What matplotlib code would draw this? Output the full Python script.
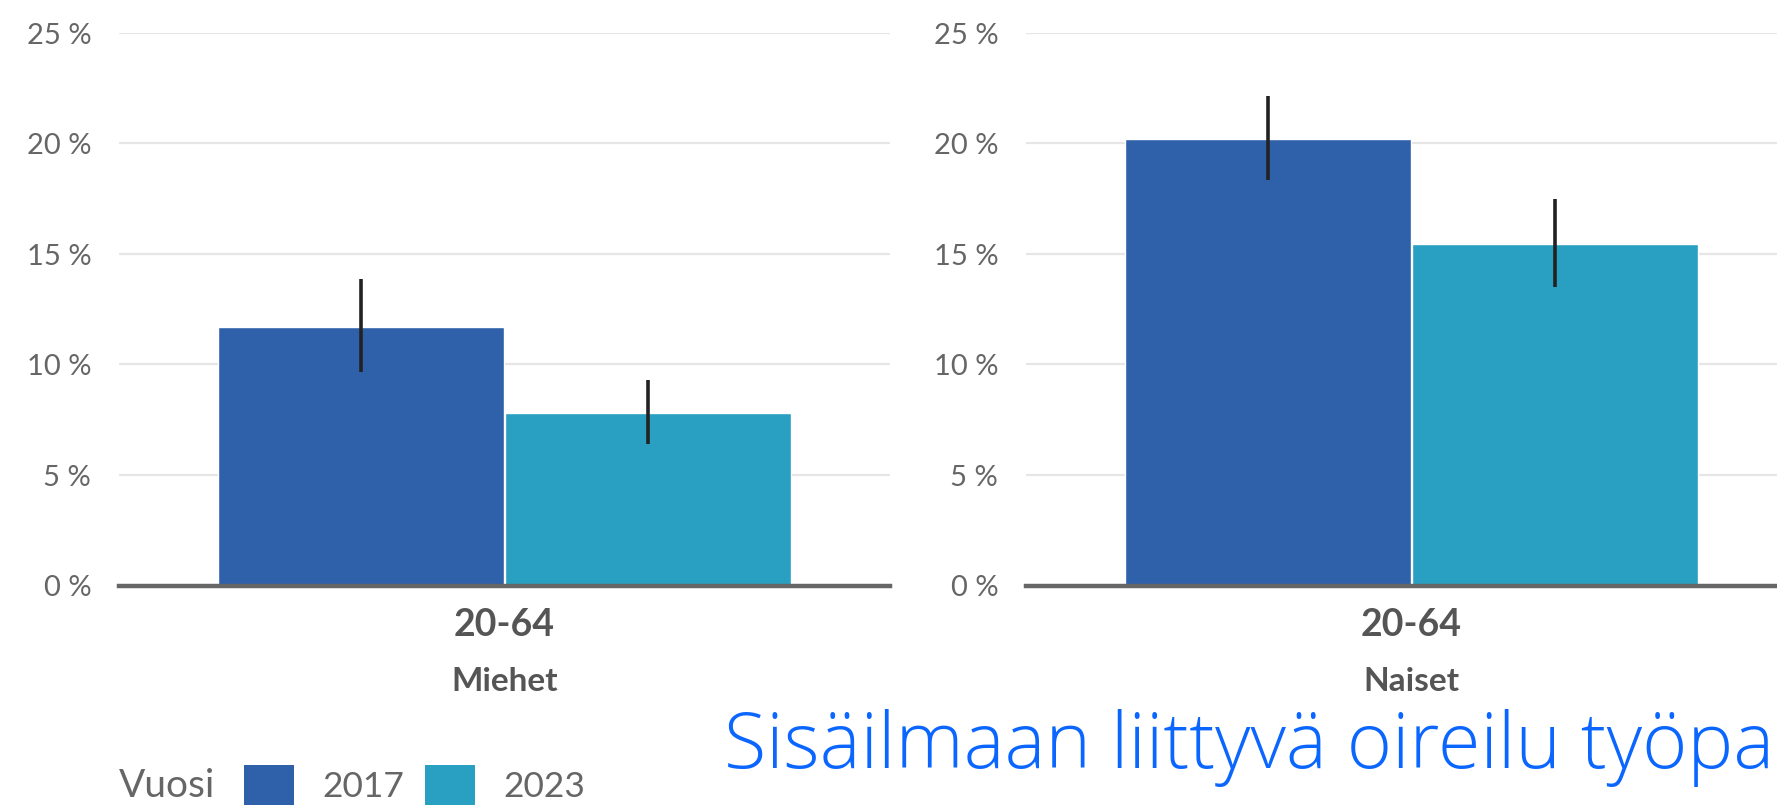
import numpy as np
import matplotlib
matplotlib.use('Agg')
from matplotlib import pyplot as plt
from matplotlib.patches import Patch

plt.rcParams['font.family'] = ['Lato', 'DejaVu Sans']

groups = ['Miehet', 'Naiset']
age_group = '20-64'
years = ['2017', '2023']
values_2017 = [11.7, 20.2]
values_2023 = [7.8, 15.45]
low_2017 = [9.65, 18.35]
high_2017 = [13.85, 22.15]
low_2023 = [6.4, 13.5]
high_2023 = [9.3, 17.5]
yticks = [0, 5, 10, 15, 20, 25]
# only the part of the title that is visible in the cropped reference
title_text = 'Sisäilmaan liittyvä oireilu työpa'

colors = ['#2f60aa', '#29a0c2']
gray = '#666666'

fig = plt.figure(figsize=(17.77, 8.05), dpi=100)
W, H = 1777, 805
bottom = 1 - 585.5 / H
height = (585.5 - 33) / H
axes = [fig.add_axes([119 / W, bottom, 771 / W, height]),
        fig.add_axes([1026 / W, bottom, 771 / W, height])]

bw = 0.37
off = 0.186
for i, ax in enumerate(axes):
    vals = [values_2017[i], values_2023[i]]
    lows = [low_2017[i], low_2023[i]]
    highs = [high_2017[i], high_2023[i]]
    xs = [-off, off]
    ax.bar(xs, vals, width=bw, color=colors, edgecolor='white', linewidth=1, zorder=2)
    err = [np.array(vals) - np.array(lows), np.array(highs) - np.array(vals)]
    ax.errorbar(xs, vals, yerr=err, fmt='none', ecolor='#222222',
                elinewidth=2.6, capsize=0, zorder=3)
    ax.set_xlim(-0.5, 0.5)
    ax.set_ylim(0, 25)
    ax.set_yticks(yticks)
    ax.set_yticklabels([f'{v} %' for v in yticks])
    ax.yaxis.grid(True, color='#e6e6e6', linewidth=1.6, zorder=0)
    ax.set_axisbelow(True)
    for s in ['top', 'right', 'left']:
        ax.spines[s].set_visible(False)
    ax.spines['bottom'].set_color(gray)
    ax.spines['bottom'].set_linewidth(3.2)
    ax.spines['bottom'].set_zorder(4)
    ax.tick_params(axis='y', length=0, pad=20, labelsize=21, labelcolor=gray)
    ax.set_xticks([0])
    ax.set_xticklabels([age_group], fontsize=27, fontweight='bold', color='#555555')
    ax.tick_params(axis='x', length=0, pad=16)
    ax.set_xlabel(groups[i], fontsize=24, fontweight='bold', color='#555555', labelpad=18)
    ax.patch.set_alpha(0)

fig.text(119 / W, 1 - 786 / H, 'Vuosi', fontsize=28, color=gray, va='center', ha='left')
handles = [Patch(facecolor=c, edgecolor='none') for c in colors]
fig.legend(handles, years, loc='center left', bbox_to_anchor=(244 / W, 1 - 785 / H),
           ncol=2, frameon=False, fontsize=25.5, labelcolor=gray,
           handlelength=1.4, handleheight=1.4, handletextpad=0.8,
           columnspacing=0.6, borderpad=0, borderaxespad=0)

fig.text(1774 / W, 1 - 768 / H, title_text, fontsize=55.5, color='#0a66ff',
         fontfamily='Open Sans', fontweight='light', va='baseline', ha='right')

fig.savefig('out.png', dpi=100)
